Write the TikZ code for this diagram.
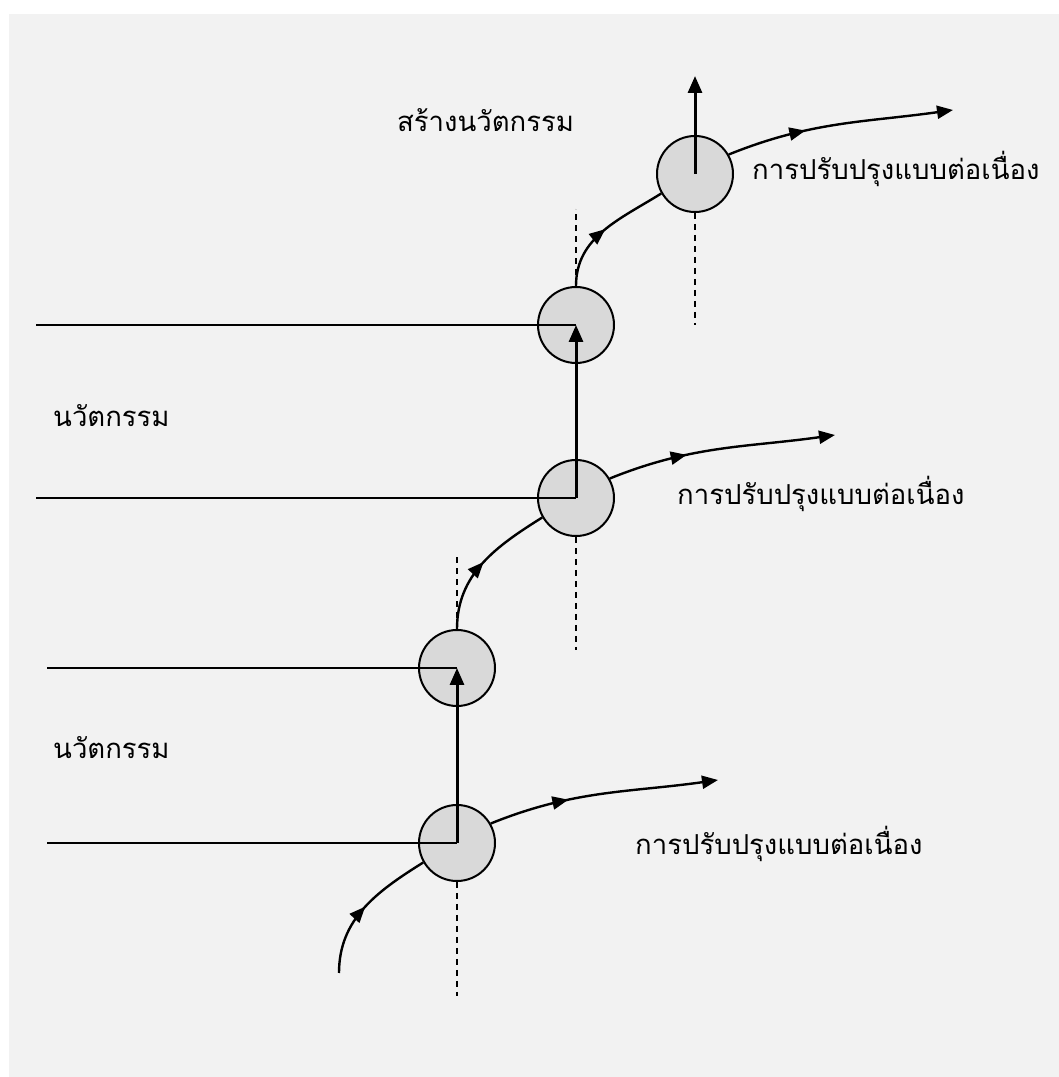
\documentclass[tikz,border=0pt]{standalone}
\usepackage{fontspec}
\newfontfamily\thaifont[Script=Thai]{Loma}
\usetikzlibrary{arrows.meta,decorations.markings}
\definecolor{bggray}{gray}{0.95}
\definecolor{dotgray}{gray}{0.85}

\begin{document}
\begin{tikzpicture}[x=1pt,y=1pt,
  stage/.style={circle,draw,line width=2pt,fill=dotgray,minimum size=76pt,inner sep=0pt},
  feed/.style={line width=2pt},
  jump/.style={line width=3pt,-{Triangle[length=17pt,width=14pt]}},
  flow/.style={line width=2.4pt,postaction={decorate},
    decoration={markings,mark=at position #1 with {\arrow{Triangle[length=16pt,width=13pt]}}}},
  flow/.default=0.5,
  guide/.style={line width=1.8pt,dash pattern=on 6pt off 5pt},
  thaitext/.style={anchor=base west,inner sep=0pt,font=\thaifont\fontsize{27.5}{30}\selectfont}]
  % page and panel
  \fill[white] (0,0) rectangle (1059,1077);
  \fill[bggray] (9,0) rectangle (1059,1063);
  \useasboundingbox (0,0) rectangle (1059,1077);

  % the five steps
  \node[stage] (c1) at (457,234) {};
  \node[stage] (c2) at (457,409) {};
  \node[stage] (c3) at (576,579) {};
  \node[stage] (c4) at (576,752) {};
  \node[stage] (c5) at (695,903) {};

  \coordinate (h1) at (47,234);
  \coordinate (h2) at (47,409);
  \coordinate (h3) at (36,579);
  \coordinate (h4) at (36,752);
  \coordinate (s0) at (339,104);
  \coordinate (e1) at (718,297);
  \coordinate (e3) at (835,642);
  \coordinate (e5) at (953,967);
  \coordinate (top) at (695,1001);
  \coordinate (g1) at (457,81);
  \coordinate (g2) at (457,523);
  \coordinate (g3) at (576,427);
  \coordinate (g4) at (576,868);
  \coordinate (g5) at (695,752);

  % levels and jumps
  \draw[feed] (h1) -- (c1.center);
  \draw[feed] (h2) -- (c2.center);
  \draw[feed] (h3) -- (c3.center);
  \draw[feed] (h4) -- (c4.center);
  \draw[jump] (c1.center) -- (c2.center);
  \draw[jump] (c3.center) -- (c4.center);
  \draw[jump] (c5.center) -- (top);

  % curves
  \draw[flow] (s0) to[out=90,in=212] (c1.210);
  \draw[flow=0.35,-{Triangle[length=16pt,width=13pt]}] (c1.30) to[out=22,in=188] (e1);
  \draw[flow] (c2.north) to[out=90,in=212] (c3.210);
  \draw[flow=0.35,-{Triangle[length=16pt,width=13pt]}] (c3.30) to[out=22,in=188] (e3);
  \draw[flow] (c4.north) to[out=90,in=212] (c5.210);
  \draw[flow=0.35,-{Triangle[length=16pt,width=13pt]}] (c5.30) to[out=22,in=188] (e5);

  % dashed guides
  \draw[guide] (c1.south) -- (g1);
  \draw[guide] (c2.north) -- (g2);
  \draw[guide] (c3.south) -- (g3);
  \draw[guide] (c4.north) -- (g4);
  \draw[guide] (c5.south) -- (g5);

  % labels
  \node[thaitext] (create) at (397,945) {สร้างนวัตกรรม};
  \node[thaitext] (imp3) at (752,897) {การปรับปรุงแบบต่อเนื่อง};
  \node[thaitext] (imp2) at (677,572) {การปรับปรุงแบบต่อเนื่อง};
  \node[thaitext] (imp1) at (635,222) {การปรับปรุงแบบต่อเนื่อง};
  \node[thaitext] (inno2) at (53,650) {นวัตกรรม};
  \node[thaitext] (inno1) at (53,318) {นวัตกรรม};
\end{tikzpicture}
\end{document}
